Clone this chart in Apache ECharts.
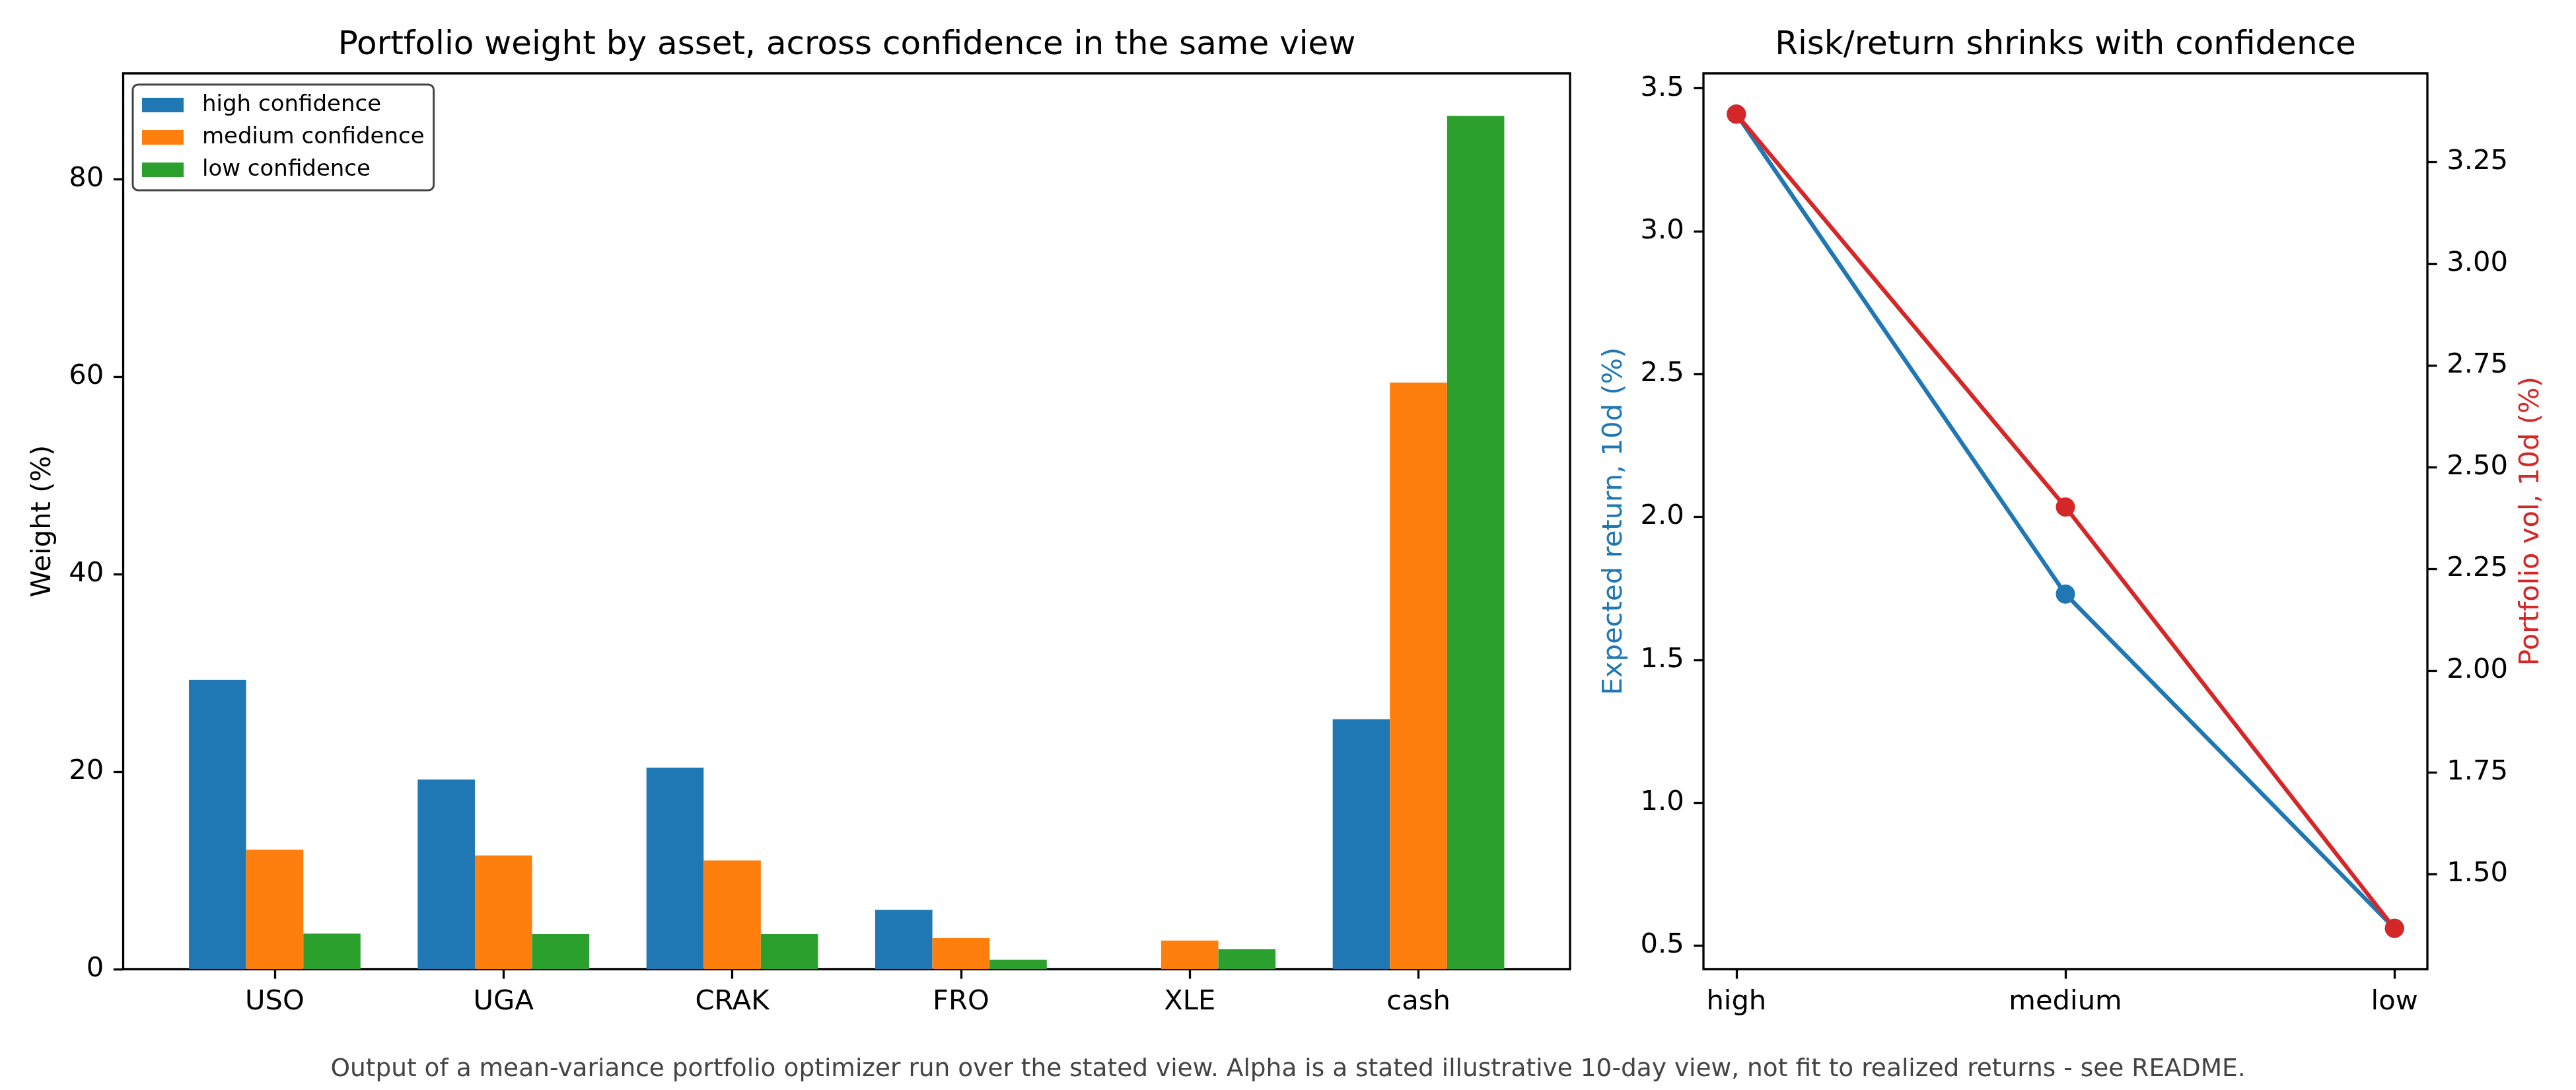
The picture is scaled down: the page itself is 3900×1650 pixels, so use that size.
<!DOCTYPE html>
<html>
<head>
<meta charset="utf-8">
<title>Portfolio weight by confidence</title>
<script src="https://cdn.jsdelivr.net/npm/echarts@6/dist/echarts.min.js"></script>
<style>
  html, body { margin: 0; padding: 0; background: #fff; }
  #chart { width: 3900px; height: 1650px; }
</style>
</head>
<body>
<div id="chart"></div>
<script>
// left panel: weights (%) per asset for each confidence level
var assets = ['USO', 'UGA', 'CRAK', 'FRO', 'XLE', 'cash']
var highWeights = [29.3, 19.2, 20.4, 6.0, 0, 25.3]
var mediumWeights = [12.1, 11.5, 11.0, 3.15, 2.9, 59.4]
var lowWeights = [3.6, 3.55, 3.55, 0.95, 2.0, 86.4]
var weightTicks = [0, 20, 40, 60, 80]

// right panel: expected return and vol (%) per confidence level
var levels = ['high', 'medium', 'low']
var expectedReturn = [3.41, 1.73, 0.56]
var portfolioVol = [3.367, 2.402, 1.367]
var returnTicks = [0.5, 1.0, 1.5, 2.0, 2.5, 3.0, 3.5]
var volTicks = [1.5, 1.75, 2.0, 2.25, 2.5, 2.75, 3.0, 3.25]

var FONT = 'DejaVu Sans'
var BLUE = '#1f77b4', ORANGE = '#ff7f0e', GREEN = '#2ca02c', RED = '#d62728'
var SPINE = 3.3, TICK_LEN = 14.6, TICK_FS = 41.7

// matplotlib-like 5% margins
function padRange(lo, hi) {
  var d = (hi - lo) * 0.05
  return [lo - d, hi + d]
}

function pairs(vals) {
  return vals.map(function (v, i) { return [i, v] })
}

var barX = padRange(-0.375, assets.length - 1 + 0.375)
var barYMax = Math.max.apply(null, highWeights.concat(mediumWeights, lowWeights)) * 1.05
var retRange = padRange(Math.min.apply(null, expectedReturn), Math.max.apply(null, expectedReturn))
var volRange = padRange(Math.min.apply(null, portfolioVol), Math.max.apply(null, portfolioVol))
var lineX = padRange(0, levels.length - 1)

function tickStyle(values) {
  return { show: true, length: TICK_LEN, customValues: values, lineStyle: { color: '#000', width: SPINE } }
}
function labelStyle(extra) {
  var s = { fontFamily: FONT, fontSize: TICK_FS, color: '#000', margin: 2 * TICK_LEN }
  for (var k in extra) s[k] = extra[k]
  return s
}
// the frame comes from the grid border, so the axis line itself stays hidden
var noLine = { show: false, onZero: false }

var chart = echarts.init(document.getElementById('chart'), null, { renderer: 'canvas' })

chart.setOption({
  animation: false,
  backgroundColor: '#fff',
  textStyle: { fontFamily: FONT },
  title: [{
    text: 'Portfolio weight by asset, across confidence in the same view',
    left: 1282, top: 69, padding: 0,
    textAlign: 'center', textVerticalAlign: 'middle',
    textStyle: { fontFamily: FONT, fontSize: 50, fontWeight: 'normal', color: '#000' }
  }, {
    text: 'Risk/return shrinks with confidence',
    left: 3127, top: 69, padding: 0,
    textAlign: 'center', textVerticalAlign: 'middle',
    textStyle: { fontFamily: FONT, fontSize: 50, fontWeight: 'normal', color: '#000' }
  }, {
    text: 'Output of a mean-variance portfolio optimizer run over the stated view. Alpha is a stated illustrative 10-day view, not fit to realized returns - see README.',
    left: 1950, top: 1619, padding: 0,
    textAlign: 'center', textVerticalAlign: 'middle',
    textStyle: { fontFamily: FONT, fontSize: 37.5, fontWeight: 'normal', color: '#444' }
  }],
  legend: {
    data: ['high confidence', 'medium confidence', 'low confidence'],
    orient: 'vertical',
    left: 201, top: 128,
    icon: 'rect',
    itemWidth: 63, itemHeight: 22, itemGap: 15,
    padding: [14, 14, 14, 14],
    borderColor: '#444', borderWidth: 3, borderRadius: 8,
    backgroundColor: '#fff',
    textStyle: { fontFamily: FONT, fontSize: 34, color: '#000', padding: [0, 0, 0, 23] }
  },
  grid: [{
    left: 186.5, top: 111, width: 2190.5, height: 1356,
    show: true, borderColor: '#000', borderWidth: SPINE, outerBoundsMode: 'none'
  }, {
    left: 2579, top: 111, width: 1096, height: 1356,
    show: true, borderColor: '#000', borderWidth: SPINE, outerBoundsMode: 'none'
  }],
  xAxis: [{
    type: 'value', gridIndex: 0,
    min: barX[0], max: barX[1],
    axisLine: noLine,
    splitLine: { show: false },
    axisTick: tickStyle(assets.map(function (a, i) { return i })),
    axisLabel: labelStyle({
      customValues: assets.map(function (a, i) { return i }),
      formatter: function (v) { return assets[Math.round(v)] }
    })
  }, {
    type: 'value', gridIndex: 1,
    min: lineX[0], max: lineX[1],
    axisLine: noLine,
    splitLine: { show: false },
    axisTick: tickStyle(levels.map(function (a, i) { return i })),
    axisLabel: labelStyle({
      customValues: levels.map(function (a, i) { return i }),
      formatter: function (v) { return levels[Math.round(v)] }
    })
  }],
  yAxis: [{
    type: 'value', gridIndex: 0,
    min: 0, max: barYMax,
    name: 'Weight (%)', nameLocation: 'middle', nameRotate: 90, nameGap: 100,
    nameTextStyle: { fontFamily: FONT, fontSize: TICK_FS, color: '#000' },
    axisLine: noLine,
    splitLine: { show: false },
    axisTick: tickStyle(weightTicks),
    axisLabel: labelStyle({ customValues: weightTicks })
  }, {
    type: 'value', gridIndex: 1, position: 'left',
    min: retRange[0], max: retRange[1],
    name: 'Expected return, 10d (%)', nameLocation: 'middle', nameRotate: 90, nameGap: 114,
    nameTextStyle: { fontFamily: FONT, fontSize: TICK_FS, color: BLUE },
    axisLine: noLine,
    splitLine: { show: false },
    axisTick: tickStyle(returnTicks),
    axisLabel: labelStyle({ customValues: returnTicks, formatter: function (v) { return v.toFixed(1) } })
  }, {
    type: 'value', gridIndex: 1, position: 'right',
    min: volRange[0], max: volRange[1],
    name: 'Portfolio vol, 10d (%)', nameLocation: 'middle', nameRotate: 90, nameGap: 136,
    nameTextStyle: { fontFamily: FONT, fontSize: TICK_FS, color: RED },
    axisLine: noLine,
    splitLine: { show: false },
    axisTick: tickStyle(volTicks),
    axisLabel: labelStyle({ customValues: volTicks, formatter: function (v) { return v.toFixed(2) } })
  }],
  series: [{
    name: 'high confidence', type: 'bar', xAxisIndex: 0, yAxisIndex: 0,
    barWidth: '25%', barGap: '0%',
    itemStyle: { color: BLUE },
    data: pairs(highWeights)
  }, {
    name: 'medium confidence', type: 'bar', xAxisIndex: 0, yAxisIndex: 0,
    barWidth: '25%', barGap: '0%',
    itemStyle: { color: ORANGE },
    data: pairs(mediumWeights)
  }, {
    name: 'low confidence', type: 'bar', xAxisIndex: 0, yAxisIndex: 0,
    barWidth: '25%', barGap: '0%',
    itemStyle: { color: GREEN },
    data: pairs(lowWeights)
  }, {
    name: 'Expected return', type: 'line', xAxisIndex: 1, yAxisIndex: 1,
    symbol: 'circle', symbolSize: 29, showAllSymbol: true,
    lineStyle: { color: BLUE, width: 6.25 },
    itemStyle: { color: BLUE, borderWidth: 0 },
    data: pairs(expectedReturn)
  }, {
    name: 'Portfolio vol', type: 'line', xAxisIndex: 1, yAxisIndex: 2,
    symbol: 'circle', symbolSize: 29, showAllSymbol: true,
    lineStyle: { color: RED, width: 6.25 },
    itemStyle: { color: RED, borderWidth: 0 },
    data: pairs(portfolioVol)
  }]
})
</script>
</body>
</html>
